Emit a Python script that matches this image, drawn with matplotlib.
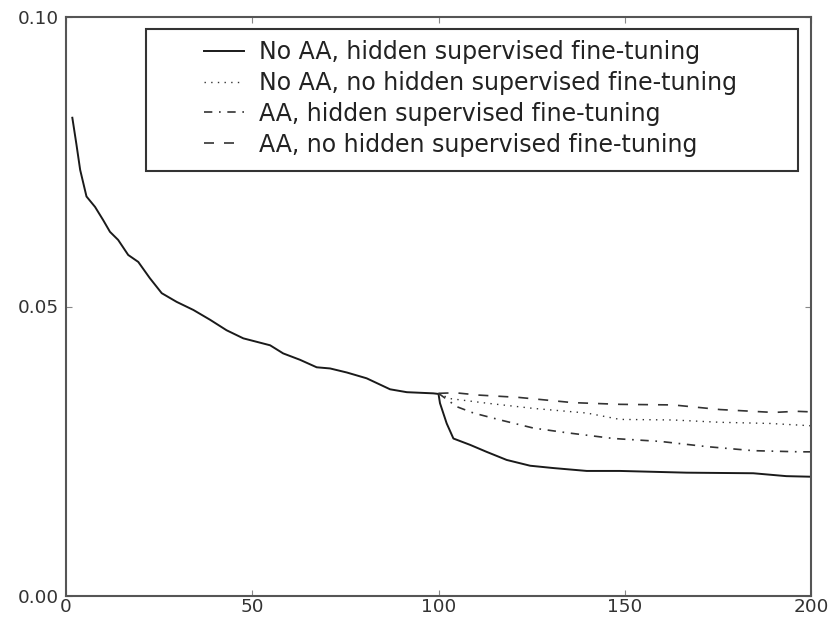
import matplotlib
matplotlib.use("Agg")
import matplotlib.pyplot as plt
from matplotlib.patches import Rectangle

# ---- data ----
solid_x = [1.7, 2.8, 3.8, 5.5, 7.8, 10, 11.8, 14, 16.7, 19.4, 22.5, 25.7, 29.7, 34.2,
           38.7, 43.1, 47.6, 49.4, 54.8, 58.3, 62.8, 67.3, 70.9, 75.4, 80.7, 87, 91.5,
           98.6, 100, 100.4, 102.2, 104, 108.5, 112.9, 118.3, 124.6, 130.8, 139.8,
           148.7, 166.6, 184.5, 193.4, 200]
solid_y = [0.0826, 0.0780, 0.0736, 0.0690, 0.0672, 0.0649, 0.0629, 0.0615, 0.0589,
           0.0577, 0.0549, 0.0523, 0.0508, 0.0494, 0.0477, 0.0459, 0.0445, 0.0442,
           0.0433, 0.0419, 0.0408, 0.0395, 0.0393, 0.0386, 0.0376, 0.0357, 0.0352,
           0.0350, 0.0349, 0.0333, 0.0298, 0.0272, 0.0261, 0.0249, 0.0235, 0.0225,
           0.0221, 0.0216, 0.0216, 0.0213, 0.0212, 0.0207, 0.0206]

dotted_x = [100, 103, 113, 125.5, 139.8, 148.7, 163, 175.6, 189, 200]
dotted_y = [0.0350, 0.0341, 0.0333, 0.0324, 0.0316, 0.0305, 0.0304, 0.0300, 0.0298, 0.0294]

dashdot_x = [100, 104.9, 109.4, 116.6, 125.5, 134.4, 147, 159.5, 172, 184.5, 197, 200]
dashdot_y = [0.0350, 0.0327, 0.0316, 0.0304, 0.0290, 0.0282, 0.0272, 0.0267, 0.0258,
             0.0251, 0.0249, 0.0249]

dashed_x = [100, 104.5, 110.8, 121.5, 136, 148.7, 163, 175.6, 190, 196, 200]
dashed_y = [0.0350, 0.0351, 0.0347, 0.0343, 0.0334, 0.0331, 0.0330, 0.0322, 0.0317,
            0.0319, 0.0318]

labels = ["No AA, hidden supervised fine-tuning",
          "No AA, no hidden supervised fine-tuning",
          "AA, hidden supervised fine-tuning",
          "AA, no hidden supervised fine-tuning"]

x_ticks = [0, 50, 100, 150, 200]
y_ticks = [0.00, 0.05, 0.10]
y_tick_labels = ["0.00", "0.05", "0.10"]

plt.rcParams['font.family'] = ['DejaVu Sans']
fig = plt.figure(figsize=(8.36, 6.17), dpi=100)
ax = fig.add_axes([66/836, 1 - 596/617, (811 - 66)/836, (596 - 17)/617])

ax.plot(solid_x, solid_y, color='#1a1a1a', lw=1.4, label=labels[0])
ax.plot(dotted_x, dotted_y, color='#333333', lw=1.0, linestyle=(0, (1, 3.8)), label=labels[1])
ax.plot(dashdot_x, dashdot_y, color='#333333', lw=1.2, linestyle=(0, (5, 4, 1, 4)), label=labels[2])
ax.plot(dashed_x, dashed_y, color='#333333', lw=1.2, linestyle=(0, (6, 6)), label=labels[3])

ax.set_xlim(0, 200)
ax.set_ylim(0, 0.10)
ax.set_xticks(x_ticks)
ax.set_xticklabels([str(t) for t in x_ticks])
ax.set_yticks(y_ticks)
ax.set_yticklabels(y_tick_labels)
ax.tick_params(direction='in', length=4, width=0.8, color='#888888', top=True, right=True,
               labelsize=13.3, labelcolor='#333333')
ax.tick_params(axis='y', pad=5)
ax.tick_params(axis='x', pad=1.5)
for s in ax.spines.values():
    s.set_linewidth(1.5)
    s.set_color('#555555')

# legend frame drawn as a rectangle in axes coordinates
x0 = (146 - 66) / 745
x1 = (798 - 66) / 745
y1 = (596 - 29) / 579
y0 = (596 - 171) / 579
ax.add_patch(Rectangle((x0, y0), x1 - x0, y1 - y0, transform=ax.transAxes,
                       fill=True, facecolor='white', edgecolor='#333333', lw=1.5, zorder=4))
leg = ax.legend(loc='upper left', bbox_to_anchor=((204 - 66) / 745, (596 - 40) / 579),
                frameon=False, fontsize=17, handlelength=1.7, handletextpad=0.62,
                borderpad=0, borderaxespad=0, labelspacing=0.29)
leg.set_zorder(5)
for t in leg.get_texts():
    t.set_color('#222222')

fig.savefig("out.png", dpi=100)
